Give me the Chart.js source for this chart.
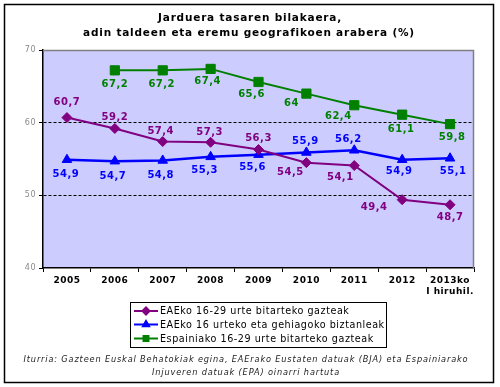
<!DOCTYPE html>
<html>
<head>
<meta charset="utf-8">
<script src="https://cdn.jsdelivr.net/npm/chart.js@4.4.0/dist/chart.umd.min.js"></script>
<style>
  html, body { margin: 0; padding: 0; background: #fff; }
  #chartContainer { width: 500px; height: 387px; }
</style>
</head>
<body>
<div id="chartContainer"><canvas id="activityChart" width="500" height="387"></canvas></div>
<script>
// Categories and series
const years = ['2005', '2006', '2007', '2008', '2009', '2010', '2011', '2012', ['2013ko', 'I hiruhil.']];
const eaeYoung = [60.7, 59.2, 57.4, 57.3, 56.3, 54.5, 54.1, 49.4, 48.7];
const eaeAdults = [54.9, 54.7, 54.8, 55.3, 55.6, 55.9, 56.2, 54.9, 55.1];
const spainYoung = [null, 67.2, 67.2, 67.4, 65.6, 64, 62.4, 61.1, 59.8];
const seriesNames = [
    'EAEko 16-29 urte bitarteko gazteak',
    'EAEko 16 urteko eta gehiagoko biztanleak',
    'Espainiako 16-29 urte bitarteko gazteak'
];
const yTicks = [40, 50, 60, 70];

// Where each value label sits relative to its point (dx, dy in px)
const labelShift = [
    [[0, -15], [0, -11], [-2, -10], [-1, -10], [0, -11], [-16, 10], [-14, 12], [-28, 8], [0, 13]],
    [[-1, 15], [-2, 15], [-2, 15], [-6, 14], [-6, 13], [-1, -11], [-6, -11], [-3, 12], [3, 13]],
    [[0, 0], [0, 14], [-1, 14], [-3, 13], [-7, 12], [-15, 10], [-16, 11], [-1, 15], [2, 13]]
];

const colors = ['#800080', '#0000FF', '#008000'];
const markers = ['rectRot', 'triangle', 'rect'];

const decorations = {
    id: 'decorations',
    beforeDraw(chart) {
        const ctx = chart.ctx;
        const a = chart.chartArea;
        ctx.save();
        ctx.fillStyle = '#fff';
        ctx.fillRect(0, 0, chart.width, chart.height);
        ctx.fillStyle = '#CCCCFF';
        ctx.fillRect(a.left, a.top, a.right - a.left, a.bottom - a.top);
        ctx.strokeStyle = '#000';
        ctx.lineWidth = 1.5;
        ctx.strokeRect(4.5, 4.5, 489, 378);
        ctx.restore();
        // the original uses a slightly spaced out font everywhere
        ctx.letterSpacing = '0.5px';
    },
    beforeDatasetsDraw(chart) {
        const ctx = chart.ctx;
        const a = chart.chartArea;
        ctx.save();
        ctx.strokeStyle = '#808080';
        ctx.lineWidth = 1.5;
        ctx.beginPath();
        ctx.moveTo(a.left, a.top + 0.5);
        ctx.lineTo(a.right - 0.5, a.top + 0.5);
        ctx.lineTo(a.right - 0.5, a.bottom);
        ctx.stroke();
        ctx.restore();
    },
    afterDatasetsDraw(chart) {
        const ctx = chart.ctx;
        ctx.save();
        ctx.letterSpacing = '0.5px';
        ctx.font = 'bold 10px "DejaVu Sans"';
        ctx.textAlign = 'center';
        ctx.textBaseline = 'middle';
        chart.data.datasets.forEach((ds, i) => {
            const meta = chart.getDatasetMeta(i);
            ctx.fillStyle = ds.borderColor;
            meta.data.forEach((pt, j) => {
                const v = ds.data[j];
                if (v === null) return;
                const s = labelShift[i][j];
                ctx.fillText(String(v).replace('.', ','), pt.x + s[0], pt.y + s[1]);
            });
        });
        ctx.restore();
    },
    afterDraw(chart) {
        const ctx = chart.ctx;
        ctx.save();
        // title
        ctx.fillStyle = '#000';
        ctx.textAlign = 'center';
        ctx.textBaseline = 'middle';
        ctx.letterSpacing = '0.8px';
        ctx.font = 'bold 10.5px "DejaVu Sans"';
        ctx.fillText('Jarduera tasaren bilakaera,', 250, 18);
        ctx.fillText('adin taldeen eta eremu geografikoen arabera (%)', 249, 33);

        // legend
        ctx.lineWidth = 1;
        ctx.strokeStyle = '#000';
        ctx.strokeRect(130.5, 302.5, 256, 45);
        ctx.textAlign = 'left';
        ctx.letterSpacing = '0.55px';
        ctx.font = '9.6px "DejaVu Sans"';
        const rows = [311, 324.5, 338.5];
        chart.data.datasets.forEach((ds, i) => {
            const y = rows[i];
            ctx.strokeStyle = ds.borderColor;
            ctx.lineWidth = 2;
            ctx.beginPath();
            ctx.moveTo(134, y);
            ctx.lineTo(158, y);
            ctx.stroke();
            Chart.helpers.drawPoint(ctx, { pointStyle: ds.pointStyle, radius: 3.5, borderWidth: 1 }, 146, y);
            ctx.fillStyle = ds.borderColor;
            ctx.fill();
            ctx.fillStyle = '#000';
            ctx.fillText(ds.label, 160, y + 0.5);
        });

        // source note
        ctx.textAlign = 'center';
        ctx.fillStyle = '#222';
        ctx.letterSpacing = '0.85px';
        ctx.font = 'italic 8.2px "DejaVu Sans"';
        ctx.fillText('Iturria: Gazteen Euskal Behatokiak egina, EAErako Eustaten datuak (BJA) eta Espainiarako', 246, 360);
        ctx.fillText('Injuveren datuak (EPA) oinarri hartuta', 246, 373);
        ctx.restore();
    }
};

const seriesData = [eaeYoung, eaeAdults, spainYoung];
const lineWidths = [2, 2.5, 2];
const radii = [5, 5.5, 6.5];

const ctx = document.getElementById('activityChart').getContext('2d');
const myChart = new Chart(ctx, {
    type: 'line',
    data: {
        labels: years,
        datasets: seriesData.map((d, i) => ({
            label: seriesNames[i],
            data: d,
            borderColor: colors[i],
            backgroundColor: colors[i],
            pointBackgroundColor: colors[i],
            pointBorderColor: colors[i],
            pointStyle: markers[i],
            pointRadius: radii[i],
            pointBorderWidth: 1,
            borderWidth: lineWidths[i],
            tension: 0,
            spanGaps: false
        }))
    },
    options: {
        responsive: false,
        animation: false,
        devicePixelRatio: 1,
        layout: { padding: { left: 0, top: 50, right: 26, bottom: 0 } },
        plugins: {
            legend: { display: false },
            title: { display: false },
            tooltip: { enabled: false }
        },
        scales: {
            x: {
                offset: true,
                grid: {
                    offset: true,
                    drawOnChartArea: false,
                    tickColor: '#000',
                    tickLength: 4
                },
                border: { color: '#000', width: 1.5 },
                ticks: {
                    color: '#000',
                    padding: 3,
                    maxRotation: 0,
                    autoSkip: false,
                    font: { family: 'DejaVu Sans', size: 9, weight: 'bold', lineHeight: 1.25 }
                },
                afterFit(scale) { scale.height = 119; }
            },
            y: {
                min: 40,
                max: 70,
                afterBuildTicks(scale) { scale.ticks = yTicks.map(v => ({ value: v })); },
                grid: {
                    color: c => (c.tick && (c.tick.value === 50 || c.tick.value === 60)) ? '#000' : 'rgba(0,0,0,0)',
                    tickColor: '#000',
                    tickLength: 4,
                    tickBorderDash: []
                },
                border: { color: '#000', width: 1.5, dash: [3, 2] },
                ticks: {
                    color: '#8a8a8a',
                    padding: 3,
                    font: { family: 'DejaVu Sans', size: 8 }
                },
                afterFit(scale) { scale.width = 43; }
            }
        }
    },
    plugins: [decorations]
});
</script>
</body>
</html>
